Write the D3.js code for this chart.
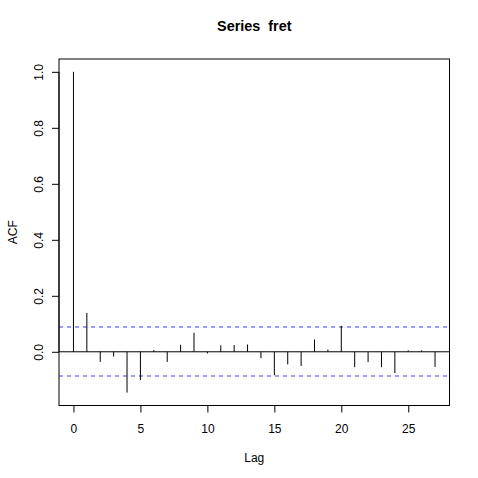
<!DOCTYPE html>
<html>
<head>
<meta charset="utf-8">
<script src="https://cdn.jsdelivr.net/npm/d3@7"></script>
<style>
  body { margin: 0; background: #fff; }
  text { font-family: "Liberation Sans", Arial, Helvetica, sans-serif; }
</style>
</head>
<body>
<div id="chart"></div>
<script>
// acf values
const lags = d3.range(0, 28);
const acfValues = [
    1.000, 0.139, -0.036, -0.017, -0.146, -0.101, 0.006, -0.036, 0.025, 0.068,
    -0.006, 0.023, 0.024, 0.026, -0.023, -0.084, -0.045, -0.051, 0.044, 0.008,
    0.093, -0.055, -0.037, -0.055, -0.076, 0.005, 0.005, -0.054
];
const ciLevel = 0.087;
const xTicks = [0, 5, 10, 15, 20, 25];
const yTicks = [0.0, 0.2, 0.4, 0.6, 0.8, 1.0];

const width = 478, height = 478;
const box = { left: 59, right: 449.5, top: 59, bottom: 405.5 };

const svg = d3.select("#chart")
    .append("svg")
    .attr("width", width)
    .attr("height", height);

// R style ranges: data range extended by 4% on each side
let xr = d3.extent(lags);
let xpad = (xr[1] - xr[0]) * 0.04;
let x = d3.scaleLinear()
    .domain([xr[0] - xpad, xr[1] + xpad])
    .range([box.left, box.right]);

let yr = d3.extent(acfValues.concat([ciLevel, -ciLevel]));
let ypad = (yr[1] - yr[0]) * 0.04;
let y = d3.scaleLinear()
    .domain([yr[0] - ypad, yr[1] + ypad])
    .range([box.bottom, box.top]);

let plot = svg.append("g");

// zero line
plot.append("line")
    .attr("x1", box.left).attr("x2", box.right)
    .attr("y1", y(0)).attr("y2", y(0))
    .attr("stroke", "#000")
    .attr("stroke-width", 1);

// confidence bounds (blue, dashed like lty = 2)
plot.selectAll(".ci")
    .data([ciLevel, -ciLevel])
    .enter()
    .append("line")
    .attr("class", "ci")
    .attr("x1", box.left).attr("x2", box.right)
    .attr("y1", d => Math.round(y(d)))
    .attr("y2", d => Math.round(y(d)))
    .attr("stroke", "#3a3aff")
    .attr("stroke-width", 1)
    .attr("stroke-dasharray", "4,4");

// spikes
plot.selectAll(".spike")
    .data(lags)
    .enter()
    .append("line")
    .attr("class", "spike")
    .attr("x1", d => x(d)).attr("x2", d => x(d))
    .attr("y1", y(0))
    .attr("y2", (d, i) => y(acfValues[i]))
    .attr("stroke", "#000")
    .attr("stroke-width", 1);

// box
svg.append("rect")
    .attr("x", box.left).attr("y", box.top)
    .attr("width", box.right - box.left)
    .attr("height", box.bottom - box.top)
    .attr("fill", "none")
    .attr("stroke", "#000")
    .attr("stroke-width", 1);

// x axis
let xAxis = svg.append("g")
    .attr("transform", `translate(0,${box.bottom})`)
    .call(d3.axisBottom(x).tickValues(xTicks).tickSize(7).tickPadding(0).tickFormat(d3.format("d")));
xAxis.select(".domain")
    .attr("d", `M${x(xTicks[0])},0H${x(xTicks[xTicks.length - 1])}`);
xAxis.selectAll("text")
    .attr("y", 27.5)
    .attr("dy", null)
    .attr("font-size", 12)
    .attr("font-family", "Liberation Sans, Arial, sans-serif")
    .attr("fill", "#000");

// y axis
let yAxis = svg.append("g")
    .attr("transform", `translate(${box.left},0)`)
    .call(d3.axisLeft(y).tickValues(yTicks).tickSize(7).tickFormat(d3.format(".1f")));
yAxis.select(".domain")
    .attr("d", `M0,${y(yTicks[0])}V${y(yTicks[yTicks.length - 1])}`);
yAxis.selectAll(".tick text")
    .attr("x", null)
    .attr("dy", null)
    .attr("text-anchor", "middle")
    .attr("transform", "translate(-16.5,0) rotate(-90)")
    .attr("font-size", 12)
    .attr("font-family", "Liberation Sans, Arial, sans-serif")
    .attr("fill", "#000");
svg.selectAll(".tick line").attr("stroke", "#000");
svg.selectAll(".domain").attr("stroke", "#000");

// titles
svg.append("text")
    .attr("x", (box.left + box.right) / 2)
    .attr("y", 30.5)
    .attr("text-anchor", "middle")
    .attr("font-size", 14.4)
    .attr("font-weight", "bold")
    .style("white-space", "pre")
    .text("Series  fret");

svg.append("text")
    .attr("x", (box.left + box.right) / 2)
    .attr("y", 461.5)
    .attr("text-anchor", "middle")
    .attr("font-size", 12)
    .text("Lag");

svg.append("text")
    .attr("transform", `translate(16.5,${(box.top + box.bottom) / 2}) rotate(-90)`)
    .attr("text-anchor", "middle")
    .attr("font-size", 12)
    .text("ACF");
</script>
</body>
</html>
